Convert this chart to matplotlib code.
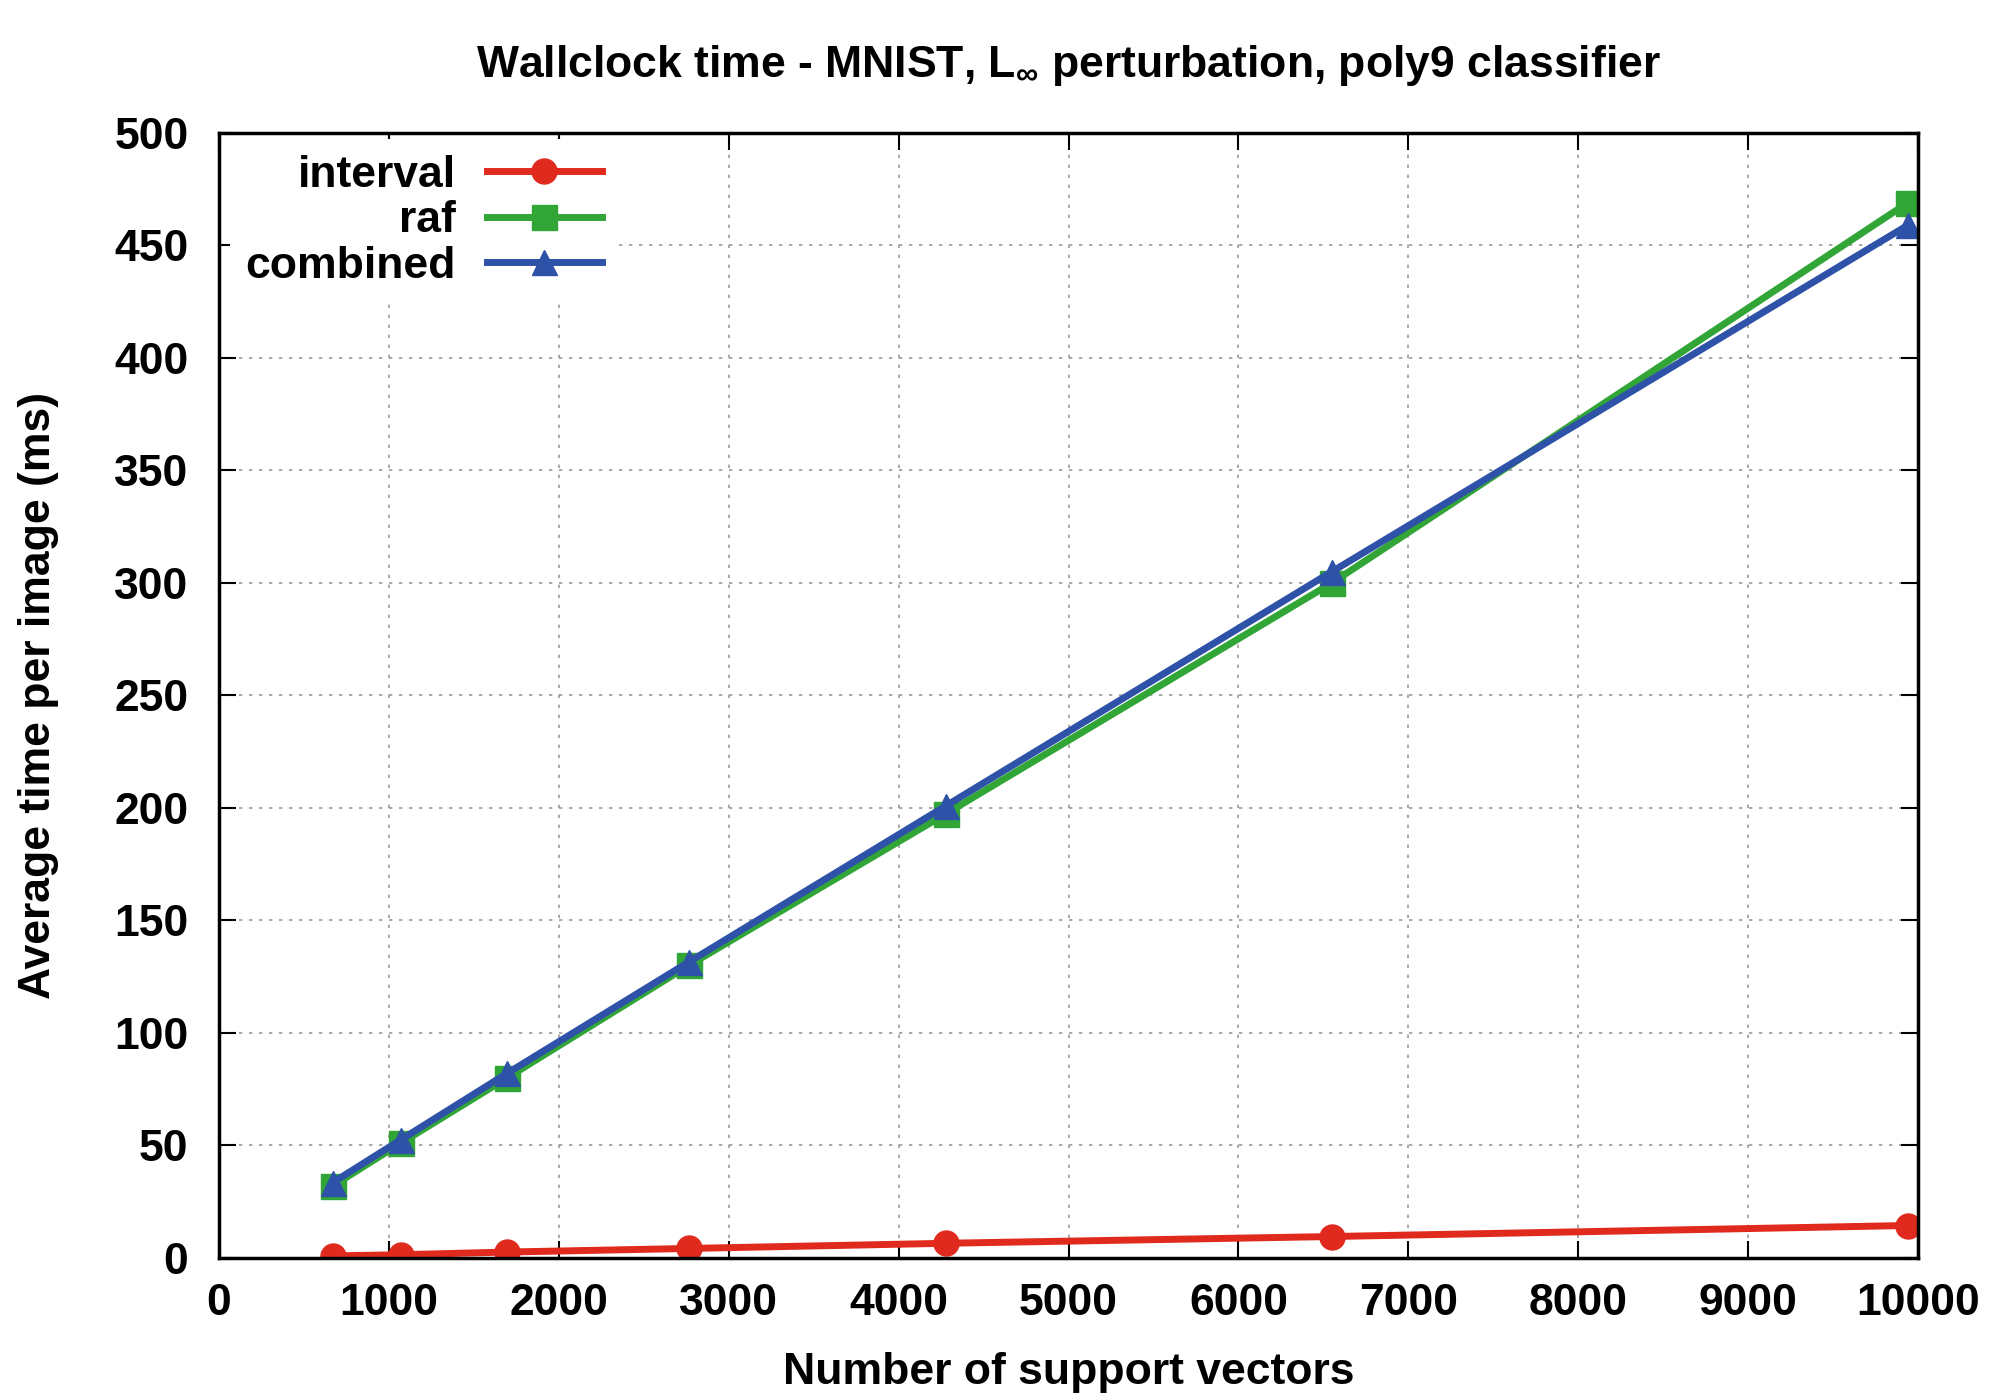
import matplotlib
matplotlib.use("Agg")
import matplotlib.pyplot as plt

# support vectors vs. average wallclock time per image (ms)
n_sv = [670, 1070, 1695, 2765, 4280, 6550, 9940]
t_interval = [0.9, 1.4, 2.6, 4.2, 6.5, 9.5, 14.4]
t_raf = [32.0, 51.0, 80.0, 130.0, 197.5, 300.0, 469.0]
t_combined = [33.5, 52.5, 82.0, 131.5, 201.0, 305.0, 459.0]

x_ticks = list(range(0, 10001, 1000))
y_ticks = list(range(0, 501, 50))

plt.rcParams['font.family'] = ['Liberation Sans', 'DejaVu Sans']
plt.rcParams['font.weight'] = 'bold'
plt.rcParams['mathtext.fontset'] = 'custom'
plt.rcParams['mathtext.rm'] = 'Liberation Sans:bold'
plt.rcParams['mathtext.it'] = 'Liberation Sans:bold'
plt.rcParams['mathtext.bf'] = 'Liberation Sans:bold'

fs = 32
fig = plt.figure(figsize=(20, 14), dpi=100)
ax = fig.add_axes([0.1095, 0.1015, 0.8495, 0.8035])

ax.plot(n_sv, t_interval, color='#e02a1e', lw=5, marker='o', ms=18, label='interval')
ax.plot(n_sv, t_raf, color='#31a636', lw=5, marker='s', ms=18, label='raf')
ax.plot(n_sv, t_combined, color='#2e52a8', lw=5, marker='^', ms=18, label='combined')

ax.set_xlim(0, 10000)
ax.set_ylim(0, 500)
ax.set_xticks(x_ticks)
ax.set_yticks(y_ticks)
ax.tick_params(direction='in', length=12, width=1.5, top=True, right=True,
               labelsize=fs)
ax.tick_params(axis='y', pad=22)
ax.tick_params(axis='x', pad=18)
for lab in ax.get_xticklabels() + ax.get_yticklabels():
    lab.set_fontweight('bold')
for sp in ax.spines.values():
    sp.set_linewidth(2.5)
ax.grid(True, color='#999999', lw=1.2, linestyle=(0, (2, 4)))
ax.set_axisbelow(True)

ax.set_title('Wallclock time - MNIST, L$_{\\infty}$ perturbation, poly9 classifier',
             fontsize=fs, fontweight='bold', pad=40)
ax.set_xlabel('Number of support vectors', fontsize=fs, fontweight='bold', labelpad=20)
ax.set_ylabel('Average time per image (ms)', fontsize=fs, fontweight='bold', labelpad=40)

leg = ax.legend(loc='upper right', bbox_to_anchor=(640 / 2000, 1 - 117 / 1400),
                bbox_transform=fig.transFigure, markerfirst=False,
                handlelength=2.6, handletextpad=0.7, labelspacing=0.1,
                borderpad=0.35, frameon=True, fancybox=False, framealpha=1.0,
                edgecolor='none', facecolor='white', prop={'weight': 'bold', 'size': fs})

fig.savefig('out.png', dpi=100)
